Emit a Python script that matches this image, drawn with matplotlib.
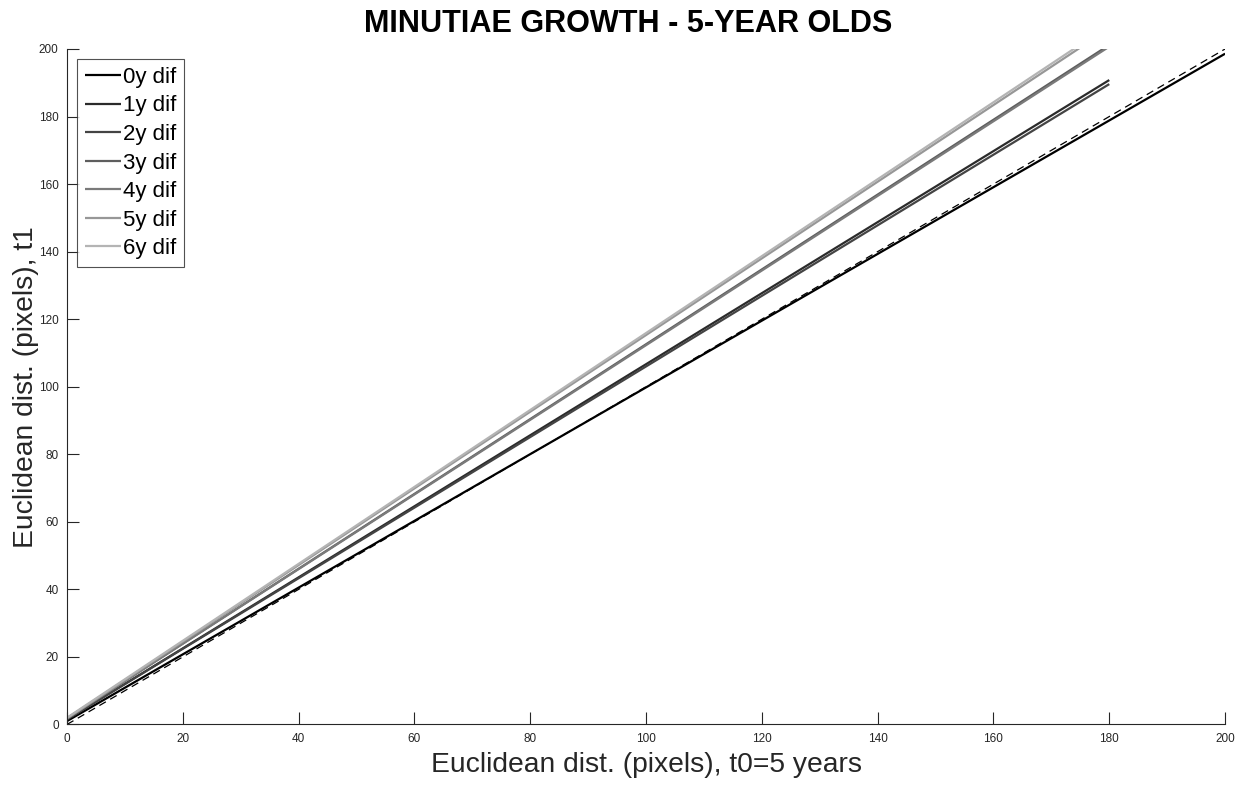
import matplotlib
matplotlib.use('Agg')
from matplotlib import pyplot as plt

plt.rcParams['font.family'] = ['Liberation Sans', 'DejaVu Sans']

# fitted growth lines: start/end points for each year gap
labels = ['0y dif', '1y dif', '2y dif', '3y dif', '4y dif', '5y dif', '6y dif']
x_start = [0, 0, 0, 0, 0, 0, 0]
x_end = [200, 180, 180, 180, 180, 180, 180]
y_start = [1.0, 1.5, 1.5, 1.8, 1.8, 1.8, 2.0]
y_end = [198.6, 190.8, 189.6, 201.2, 200.7, 206.1, 207.0]
greys = ['#000000', '#2b2b2b', '#444444', '#5e5e5e', '#7a7a7a', '#979797', '#b4b4b4']

# identity reference line
ref_x = [0, 200]
ref_y = [0, 200]

ticks = [0, 20, 40, 60, 80, 100, 120, 140, 160, 180, 200]

axcol = '#262626'

fig = plt.figure(figsize=(12.45, 7.85), dpi=100)
ax = fig.add_axes([0.0538, 0.0771, 0.9302, 0.8605])

for i in range(len(labels)):
    ax.plot([x_start[i], x_end[i]], [y_start[i], y_end[i]], color=greys[i],
            linewidth=1.6, label=labels[i], solid_capstyle='butt')
ax.plot(ref_x, ref_y, color='black', linestyle=(0, (6, 4)), linewidth=0.9)

ax.set_xlim(0, 200)
ax.set_ylim(0, 200)
ax.set_xticks(ticks)
ax.set_yticks(ticks)
ax.tick_params(direction='in', length=8.5, width=0.8, labelsize=8.5,
               colors=axcol, pad=6)
for s in ['top', 'right']:
    ax.spines[s].set_visible(False)
for s in ['left', 'bottom']:
    ax.spines[s].set_color(axcol)
    ax.spines[s].set_linewidth(0.8)

ax.set_xlabel('Euclidean dist. (pixels), t0=5 years', fontsize=20.3, color=axcol, labelpad=5)
ax.set_ylabel('Euclidean dist. (pixels), t1', fontsize=20.3, color=axcol, labelpad=0)
ax.set_title('MINUTIAE GROWTH - 5-YEAR OLDS', fontsize=22.1, fontweight='bold',
             x=0.4845, pad=12)

leg = ax.legend(loc='upper left', bbox_to_anchor=(0.009, 0.985), fontsize=16,
                handlelength=1.6, handletextpad=0.1, labelspacing=0.34,
                borderpad=0.35, borderaxespad=0, frameon=True, fancybox=False)
leg.get_frame().set_edgecolor(axcol)
leg.get_frame().set_linewidth(0.8)

plt.savefig('out.png', dpi=100)
